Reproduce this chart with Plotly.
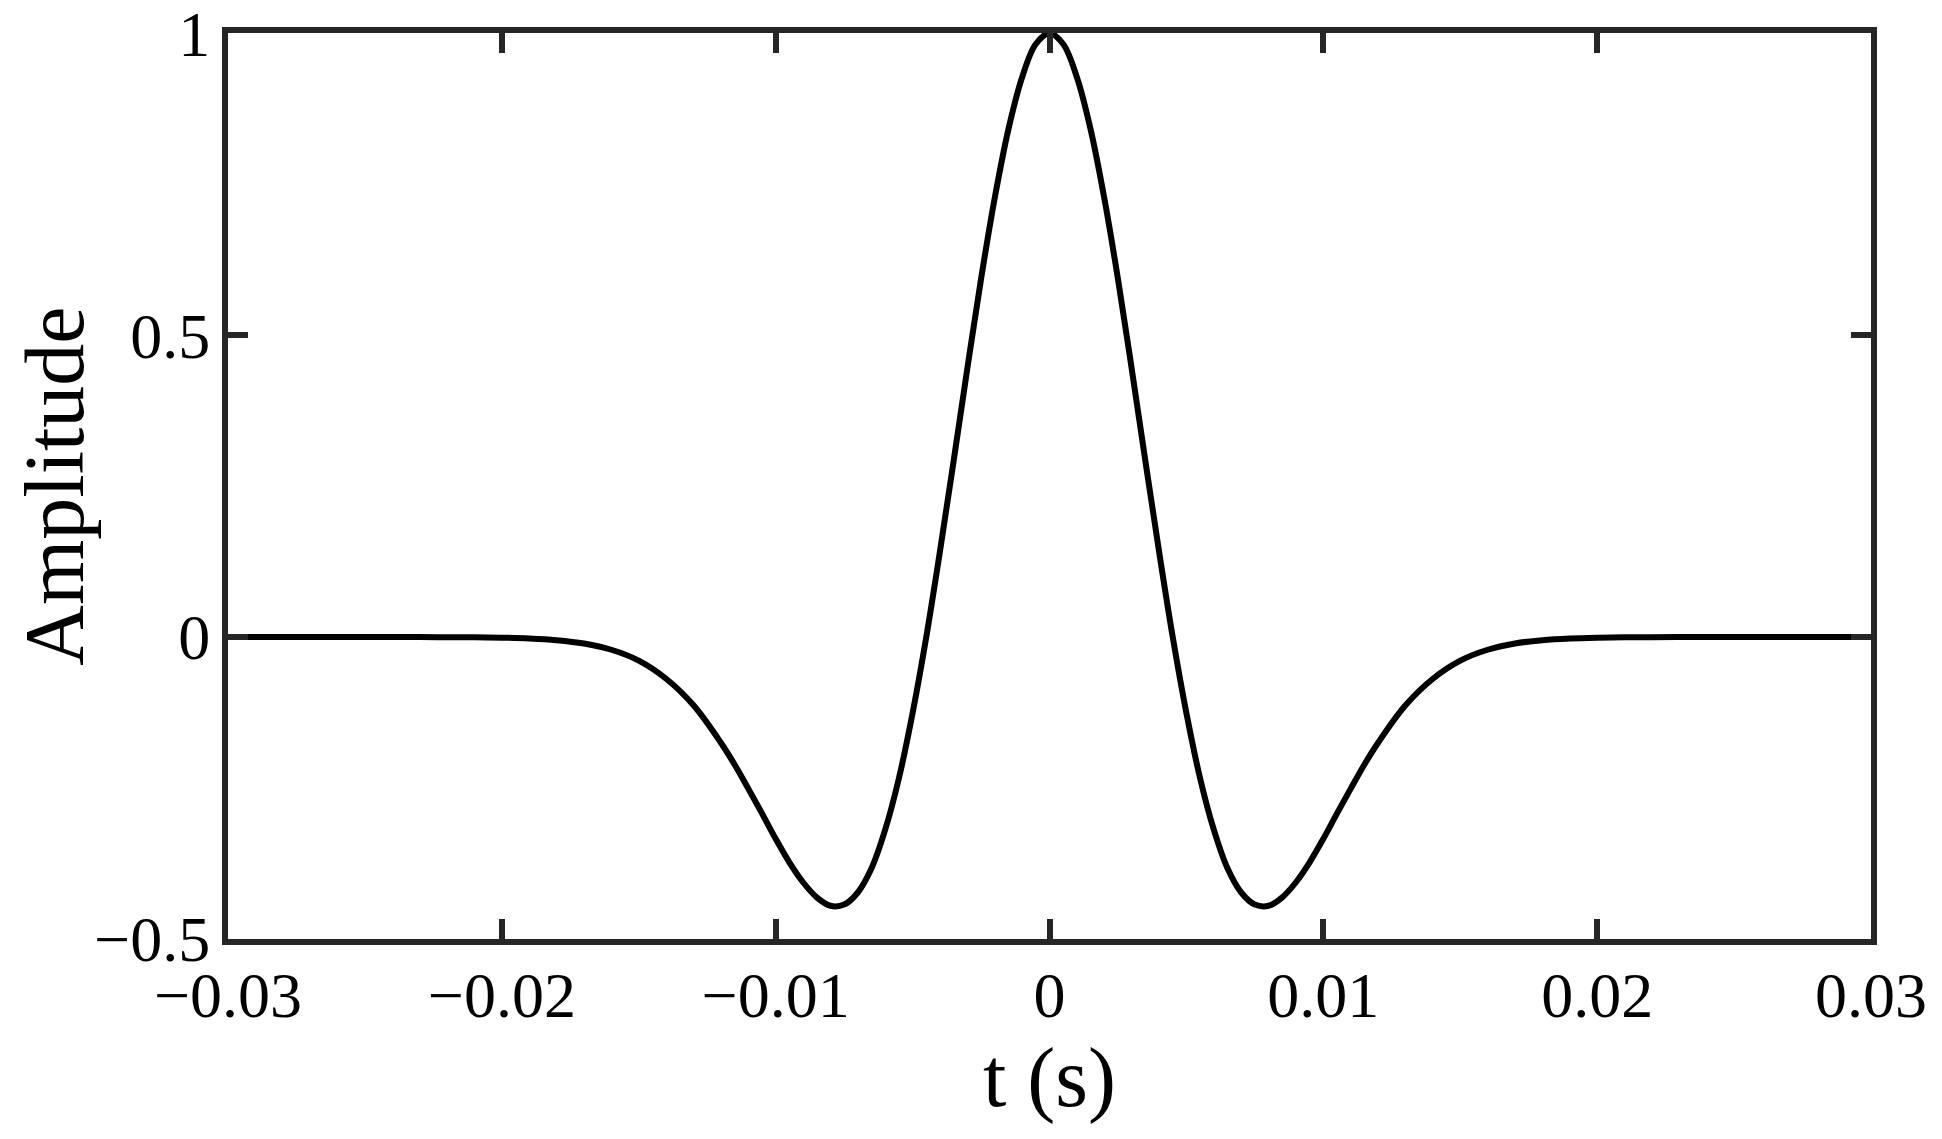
import plotly.graph_objects as go

# time samples (s)
t = [-0.030, -0.029, -0.028, -0.027, -0.026, -0.025, -0.024, -0.023, -0.022, -0.021,
     -0.020, -0.019, -0.018, -0.017, -0.016, -0.015, -0.014, -0.013, -0.012,
     -0.0115, -0.011, -0.0105, -0.010, -0.0095, -0.009, -0.0085, -0.008, -0.0075,
     -0.007, -0.0065, -0.006, -0.0055, -0.005, -0.0045, -0.004, -0.0035, -0.003,
     -0.0025, -0.002, -0.0015, -0.001, -0.0005,
     0.000,
     0.0005, 0.001, 0.0015, 0.002, 0.0025, 0.003, 0.0035, 0.004, 0.0045, 0.005,
     0.0055, 0.006, 0.0065, 0.007, 0.0075, 0.008, 0.0085, 0.009, 0.0095, 0.010,
     0.0105, 0.011, 0.0115,
     0.012, 0.013, 0.014, 0.015, 0.016, 0.017, 0.018, 0.019, 0.020,
     0.021, 0.022, 0.023, 0.024, 0.025, 0.026, 0.027, 0.028, 0.029, 0.030]

# amplitude
amplitude = [0.000, 0.000, 0.000, 0.000, 0.000, 0.000, 0.000, 0.000, -0.0002, -0.0004,
             -0.001, -0.0023, -0.0051, -0.0106, -0.021, -0.039, -0.069, -0.113, -0.175,
             -0.211, -0.251, -0.292, -0.334, -0.373, -0.406, -0.431, -0.445, -0.443,
             -0.423, -0.383, -0.319, -0.234, -0.126, 0.000, 0.142, 0.292, 0.445,
             0.593, 0.727, 0.841, 0.927, 0.982,
             1.000,
             0.982, 0.927, 0.841, 0.727, 0.593, 0.445, 0.292, 0.142, 0.000, -0.126,
             -0.234, -0.319, -0.383, -0.423, -0.443, -0.445, -0.431, -0.406, -0.373, -0.334,
             -0.292, -0.251, -0.211,
             -0.175, -0.113, -0.069, -0.039, -0.021, -0.0106, -0.0051, -0.0023, -0.001,
             -0.0004, -0.0002, 0.000, 0.000, 0.000, 0.000, 0.000, 0.000, 0.000, 0.000]

x_ticks = [-0.03, -0.02, -0.01, 0, 0.01, 0.02, 0.03]
x_ticktext = ["\u22120.03", "\u22120.02", "\u22120.01", "0", "0.01", "0.02", "0.03"]
y_ticks = [-0.5, 0, 0.5, 1]
y_ticktext = ["\u22120.5", "0", "0.5", "1"]

FONT = "Liberation Serif, Times New Roman, serif"
AX = "#262626"

fig = go.Figure()
fig.add_trace(go.Scatter(
    x=t, y=amplitude, mode="lines",
    line=dict(color="black", width=6, shape="spline", smoothing=1.0),
    showlegend=False, hoverinfo="skip",
))

common = dict(
    showline=True, linecolor=AX, linewidth=6, mirror="ticks",
    ticks="inside", ticklen=20, tickwidth=6, tickcolor=AX,
    showgrid=False, zeroline=False, automargin=False,
    tickfont=dict(family=FONT, size=64, color="black"),
    ticklabeloverflow="allow",
)

# page body has an 8px default margin, so the figure is 16px smaller
fig.update_layout(
    width=1926, height=1123, autosize=False,
    margin=dict(l=220, r=63, t=25, b=192, pad=0),
    paper_bgcolor="white", plot_bgcolor="white",
    font=dict(family=FONT, color="black"),
    xaxis=dict(range=[-0.03, 0.03], tickvals=x_ticks, ticktext=x_ticktext,
               title=dict(text="t (s)", font=dict(family=FONT, size=84), standoff=14),
               ticklabelstandoff=-5, **common),
    yaxis=dict(range=[-0.5, 1.0003], tickvals=y_ticks, ticktext=y_ticktext,
               title=dict(text="Amplitude", font=dict(family=FONT, size=84), standoff=20),
               ticklabelstandoff=-1, **common),
)

fig.write_html("out.html")
